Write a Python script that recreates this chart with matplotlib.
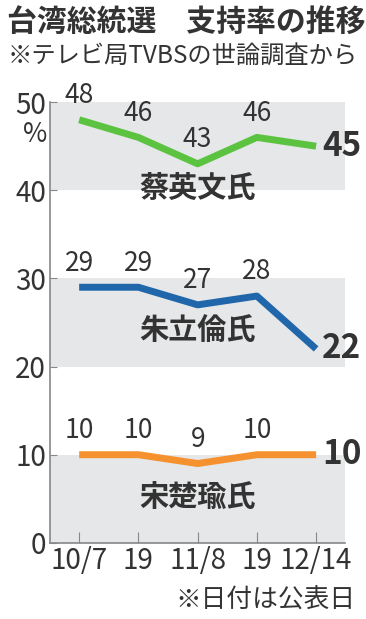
import matplotlib.pyplot as plt

plt.rcParams['font.family'] = ['Noto Sans CJK JP', 'DejaVu Sans']

fechas = ['10/7', '19', '11/8', '19', '12/14']
tsai = [48, 46, 43, 46, 45]
chu = [29, 29, 27, 28, 22]
soong = [10, 10, 9, 10, 10]
nombres = ['蔡英文氏', '朱立倫氏', '宋楚瑜氏']

verde = '#5cc341'
azul = '#1f67aa'
naranja = '#f5912e'
texto = '#333333'

fig = plt.figure(figsize=(3.66, 6.19), dpi=100)
ax = fig.add_axes([0.137, 0.123, 0.806, 0.712])

x = list(range(len(fechas)))

# bandas grises
for lo in [0, 20, 40]:
    ax.axhspan(lo, lo + 10, color='#e6e7e8', zorder=0, lw=0)

series = [(tsai, verde, 40.3), (chu, azul, 24.1), (soong, naranja, 5.2)]
for (datos, color, ny), nombre in zip(series, nombres):
    ax.plot(x, datos, color=color, lw=5, solid_capstyle='butt', zorder=3)
    for i in x[:-1]:
        ax.text(i, datos[i] + 1.2, str(datos[i]), ha='center', va='bottom',
                fontsize=19, color=texto)
    ax.text(x[-1] + 0.1, datos[-1], str(datos[-1]), ha='left', va='center',
            fontsize=24, fontweight='bold', color=texto)
    ax.text(2, ny, nombre, ha='center', va='center', fontsize=21,
            fontweight='bold', color=texto)

ax.set_xlim(-0.49, 4.49)
ax.set_ylim(0, 50)
ax.set_xticks(x)
ax.set_xticklabels(fechas)
ax.set_yticks([0, 10, 20, 30, 40, 50])
ax.tick_params(axis='x', direction='in', length=8, color='#888888',
               labelsize=20, labelcolor=texto, pad=2)
ax.tick_params(axis='y', direction='in', length=5, color='#888888',
               labelsize=20, labelcolor=texto, pad=3)
for s in ['top', 'right']:
    ax.spines[s].set_visible(False)
for s in ['left', 'bottom']:
    ax.spines[s].set_color('#888888')
    ax.spines[s].set_linewidth(1.2)

ax.text(-0.75, 46.3, '%', ha='center', va='center', fontsize=19, color=texto)

fig.text(0.02, 0.965, '台湾総統選　支持率の推移', ha='left', va='center',
         fontsize=21.5, fontweight='bold', color=texto)
fig.text(0.02, 0.91, '※テレビ局TVBSの世論調査から', ha='left', va='center',
         fontsize=17.5, color=texto)
fig.text(0.97, 0.03, '※日付は公表日', ha='right', va='center',
         fontsize=18.5, color=texto)

plt.savefig('out.png')
